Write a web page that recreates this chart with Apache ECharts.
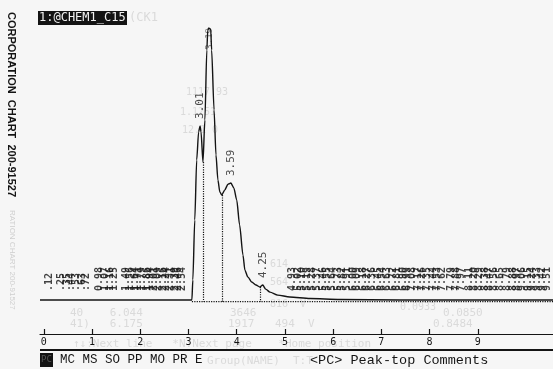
<!DOCTYPE html>
<html>
<head>
<meta charset="utf-8">
<script src="https://cdn.jsdelivr.net/npm/echarts@6.0.0/dist/echarts.min.js"></script>
<style>
html, body { margin: 0; padding: 0; background: #f6f6f6; }
#chart { width: 553px; height: 369px; }
</style>
</head>
<body>
<div id="chart"></div>
<script>
// screen scale ticks
const tickValues = [0, 1, 2, 3, 4, 5, 6, 7, 8, 9];

// chromatogram trace: position on screen scale / signal (peak = 100)
const traceX = [-0.08, 3.07, 3.09, 3.13, 3.17, 3.21, 3.24, 3.26, 3.30, 3.34, 3.38, 3.40, 3.42, 3.46, 3.48,
    3.53, 3.57, 3.61, 3.65, 3.69, 3.75, 3.82, 3.88, 3.94, 4.00, 4.06, 4.13, 4.17, 4.23, 4.31, 4.40,
    4.48, 4.54, 4.60, 4.69, 4.85, 5.10, 5.52, 6.14, 7.38, 10.56];
const traceY = [0, 0, 7.4, 29.4, 51.5, 61.8, 64.0, 61.8, 50.7, 66.2, 91.9, 99.3, 100, 99.6, 91.9,
    69.9, 53.3, 44.1, 39.7, 38.6, 40.4, 42.6, 43.0, 41.2, 36.8, 27.6, 16.5, 11.0, 8.5, 6.6, 5.5,
    4.8, 5.5, 4.0, 2.9, 1.8, 1.1, 0.55, 0.2, 0, 0];

// integration baseline and drop lines
const baseX = [3.07, 10.56];
const baseLevel = -0.6;
const dropX = [3.30, 3.69, 4.48];
const dropTop = [50.7, 38.6, 4.8];

// labelled peaks
const peakX = [3.24, 3.88, 4.54];
const peakY = [64.0, 43.0, 5.5];
const peakLabels = ['3.01', '3.59', '4.25'];
const topPeak = [3.42, 100];
const topPeakLabel = '3.19';

// small peaks printed along the baseline
const minorX = [0.12, 0.37, 0.48, 0.58, 0.68, 0.79, 0.89, 1.16, 1.27, 1.37, 1.47,
    1.72, 1.80, 1.89, 1.97, 2.05, 2.14, 2.22, 2.30, 2.38, 2.47, 2.55, 2.63, 2.72, 2.80, 2.88,
    5.16, 5.27, 5.37, 5.47, 5.58, 5.68, 5.79, 5.89, 5.99, 6.10, 6.20, 6.30, 6.41, 6.51, 6.62, 6.72,
    6.82, 6.93, 7.03, 7.13, 7.24, 7.34, 7.45, 7.55, 7.65, 7.76, 7.86, 7.96, 8.07, 8.17, 8.27,
    8.46, 8.56, 8.67, 8.83, 8.94, 9.04, 9.15, 9.25, 9.35, 9.46,
    9.62, 9.73, 9.83, 9.93, 10.04, 10.14, 10.24, 10.35, 10.45];
const minorText = ['.12', '.25', '.35', '.44', '.53', '.63', '.72', '0.98', '1.07', '1.16', '1.25',
    '1.49', '1.56', '1.64', '1.71', '1.79', '1.86', '1.94', '2.01', '2.09', '2.16', '2.24', '2.31', '2.39', '2.46', '2.54',
    '4.93', '5.02', '5.10', '5.19', '5.28', '5.37', '5.46', '5.55', '5.64', '5.73', '5.82', '5.91', '6.00', '6.09', '6.18', '6.27',
    '6.36', '6.45', '6.54', '6.63', '6.72', '6.81', '6.90', '6.99', '7.08', '7.17', '7.26', '7.35', '7.44', '7.53', '7.62',
    '7.79', '7.88', '7.97', '8.11', '8.20', '8.29', '8.38', '8.47', '8.56', '8.65',
    '8.79', '8.88', '8.97', '9.06', '9.15', '9.24', '9.33', '9.42', '9.51'];

const ink = '#141414';
const ghost = '#dadada';
const mono = 'DejaVu Sans Mono';

const chart = echarts.init(document.getElementById('chart'));

const ghostText = (x, y, text, size) => ({
    type: 'text', x: x, y: y, silent: true, z: -1,
    style: { text: text, fill: ghost, font: (size || 11) + 'px "' + mono + '"', verticalAlign: 'middle' }
});

chart.setOption({
    backgroundColor: '#f6f6f6',
    animation: false,
    grid: { left: 40, right: 0, top: 28, bottom: 35 },
    xAxis: {
        type: 'value',
        min: -0.08,
        max: 10.56,
        axisLine: { show: true, onZero: false, lineStyle: { color: ink, width: 1.2 } },
        axisTick: { show: true, inside: true, length: 5, customValues: tickValues, lineStyle: { color: ink, width: 1.2 } },
        axisLabel: { customValues: tickValues, color: ink, fontFamily: mono, fontSize: 10, margin: 3 },
        splitLine: { show: false }
    },
    yAxis: { type: 'value', min: -12.5, max: 100, show: false },
    series: [
        {
            type: 'line',
            data: traceX.map((x, i) => [x, traceY[i]]),
            symbol: 'none',
            smooth: 0.25,
            smoothMonotone: 'x',
            lineStyle: { color: ink, width: 1.4 },
            z: 3
        },
        {
            type: 'line',
            data: baseX.map(x => [x, baseLevel]),
            symbol: 'none',
            lineStyle: { color: ink, width: 1.2, type: 'dotted' },
            markLine: {
                silent: true,
                symbol: 'none',
                label: { show: false },
                lineStyle: { color: ink, width: 1.2, type: 'dotted' },
                data: dropX.map((x, i) => [{ coord: [x, dropTop[i]] }, { coord: [x, baseLevel] }])
            }
        },
        {
            type: 'scatter',
            symbolSize: 0,
            data: peakX.map((x, i) => [x, peakY[i]]),
            label: {
                show: true,
                position: 'top',
                distance: 7,
                rotate: 90,
                align: 'left',
                verticalAlign: 'middle',
                formatter: p => peakLabels[p.dataIndex],
                color: '#222',
                fontFamily: mono,
                fontSize: 11
            }
        },
        {
            type: 'scatter',
            symbolSize: 0,
            data: [topPeak],
            label: {
                show: true,
                position: 'inside',
                offset: [0, 1],
                rotate: 90,
                align: 'right',
                verticalAlign: 'middle',
                formatter: topPeakLabel,
                color: '#666',
                fontFamily: mono,
                fontSize: 9
            }
        },
        {
            type: 'scatter',
            symbolSize: 0,
            data: minorX.map(x => [x, 0]),
            label: {
                show: true,
                position: 'top',
                distance: 9,
                rotate: 90,
                align: 'left',
                verticalAlign: 'middle',
                formatter: p => minorText[p.dataIndex],
                color: ink,
                fontFamily: mono,
                fontWeight: 'bold',
                fontSize: 10
            }
        }
    ],
    graphic: [
        // faint bleed-through from the other side of the sheet
        ghostText(129, 18, '(CK1', 12),
        ghostText(186, 92, '1117 93', 10),
        ghostText(180, 112, '1.1251', 10),
        ghostText(182, 130, '12.1 0', 10),
        ghostText(270, 264, '614', 10),
        ghostText(270, 282, '564', 10),
        ghostText(270, 304, '816  V', 10),
        ghostText(400, 307, '0.0933', 10),
        ghostText(70, 313, '40    6.044', 11),
        ghostText(230, 313, '3646', 11),
        ghostText(443, 313, '0.0850', 11),
        ghostText(70, 324, '41)   6.175', 11),
        ghostText(228, 324, '1917', 11),
        ghostText(275, 324, '494  V', 11),
        ghostText(433, 324, '0.8484', 11),
        ghostText(73, 344, '\u2191\u2193:Next line   *N:Next page    *Home position', 11),
        ghostText(207, 361, 'Group(NAME)', 11),
        ghostText(293, 361, 'T:T', 11),
        {
            type: 'text', x: 11, y: 12, rotation: -Math.PI / 2, silent: true,
            style: { text: 'CORPORATION  CHART  200-91527', fill: ink, font: 'bold 11px "Liberation Sans"', verticalAlign: 'middle' }
        },
        {
            type: 'text', x: 12, y: 210, rotation: -Math.PI / 2, silent: true,
            style: { text: 'RATION CHART 200-91527', fill: '#cfcfcf', font: '8px "Liberation Sans"', verticalAlign: 'middle' }
        },
        // title plate
        { type: 'rect', shape: { x: 38, y: 11, width: 89, height: 14 }, style: { fill: ink } },
        {
            type: 'text', x: 39, y: 18,
            style: { text: '1:@CHEM1_C15', fill: '#f2f2f2', font: '12px "' + mono + '"', verticalAlign: 'middle' }
        },
        // bottom menu line
        { type: 'line', shape: { x1: 40, y1: 350, x2: 553, y2: 350 }, style: { stroke: ink, lineWidth: 2 } },
        { type: 'rect', shape: { x: 40, y: 353, width: 13, height: 14 }, style: { fill: ink } },
        {
            type: 'text', x: 41, y: 360,
            style: { text: 'PC', fill: '#555', font: '9px "' + mono + '"', verticalAlign: 'middle' }
        },
        {
            type: 'text', x: 60, y: 360,
            style: { text: 'MC MS SO PP MO PR E', fill: ink, font: '12.5px "Liberation Mono"', verticalAlign: 'middle' }
        },
        {
            type: 'text', x: 310, y: 360,
            style: { text: '<PC> Peak-top Comments', fill: ink, font: '13.5px "Liberation Mono"', verticalAlign: 'middle' }
        }
    ]
});

window.addEventListener('resize', () => chart.resize());
</script>
</body>
</html>
